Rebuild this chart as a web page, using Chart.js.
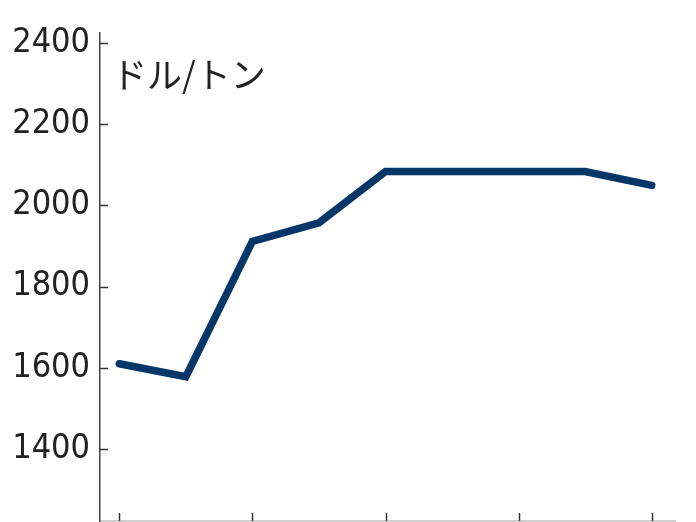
<!DOCTYPE html>
<html>
<head>
<meta charset="utf-8">
<script src="https://cdn.jsdelivr.net/npm/chart.js@4/dist/chart.umd.min.js"></script>
<style>
  html, body { margin: 0; padding: 0; background: #fff; }
  #wrap { width: 696px; height: 522px; }
</style>
</head>
<body>
<div id="wrap"><canvas id="priceChart"></canvas></div>
<script>
// data
const points = [0, 1, 2, 3, 4, 5, 6, 7, 8];
const prices = [1610, 1578, 1911, 1957, 2083, 2083, 2083, 2083, 2049];
const yTicks = [1400, 1600, 1800, 2000, 2200, 2400];
const xTicks = [0, 2, 4, 6, 8];
const unitLabel = 'ドル/トン';

const NAVY = '#073769';
const numFont = "'Liberation Sans Narrow', 'Arial Narrow', 'DejaVu Sans Condensed', sans-serif";

// short inward tick marks + unit label
const extras = {
  id: 'extras',
  afterDraw(chart) {
    const { ctx, scales: { x, y }, chartArea } = chart;
    ctx.save();
    ctx.strokeStyle = '#333';
    ctx.lineWidth = 1.5;
    yTicks.forEach(v => {
      const py = Math.round(y.getPixelForValue(v)) + 0.5;
      ctx.beginPath();
      ctx.moveTo(chartArea.left, py);
      ctx.lineTo(chartArea.left + 8, py);
      ctx.stroke();
    });
    xTicks.forEach(v => {
      const px = Math.round(x.getPixelForValue(v)) + 0.5;
      ctx.beginPath();
      ctx.moveTo(px, chartArea.bottom);
      ctx.lineTo(px, chartArea.bottom - 8);
      ctx.stroke();
    });
    ctx.fillStyle = '#222';
    ctx.font = "35px 'Noto Sans CJK JP', sans-serif";
    ctx.textBaseline = 'middle';
    ctx.fillText(unitLabel, chartArea.left + 12, 75);
    ctx.restore();
  }
};

new Chart(document.getElementById('priceChart'), {
  type: 'line',
  data: {
    datasets: [{
      data: points.map((p, i) => ({ x: p, y: prices[i] })),
      borderColor: NAVY,
      borderWidth: 7.5,
      borderCapStyle: 'round',
      borderJoinStyle: 'miter',
      pointRadius: 0,
      tension: 0
    }]
  },
  options: {
    responsive: true,
    maintainAspectRatio: false,
    animation: false,
    layout: { padding: { top: 33, right: 21, bottom: 0, left: 0 } },
    plugins: { legend: { display: false }, tooltip: { enabled: false } },
    scales: {
      x: {
        type: 'linear',
        min: -0.29,
        max: 8.35,
        afterBuildTicks: s => { s.ticks = xTicks.map(v => ({ value: v })); },
        afterFit: s => { s.height = 1; s.paddingLeft = 0; s.paddingRight = 0; },
        ticks: { display: false },
        grid: { display: false, drawTicks: false },
        border: { display: true, color: '#cfcfcf', width: 2 }
      },
      y: {
        min: 1223,
        max: 2424,
        afterBuildTicks: s => { s.ticks = yTicks.map(v => ({ value: v })); },
        afterFit: s => { s.width = 100; s.paddingTop = 0; s.paddingBottom = 0; },
        ticks: {
          color: '#222',
          padding: 10,
          font: { family: numFont, size: 34 },
          callback: v => String(v)
        },
        grid: { display: false, drawTicks: false },
        border: { display: true, color: '#444', width: 1.5 }
      }
    }
  },
  plugins: [extras]
});
</script>
</body>
</html>
